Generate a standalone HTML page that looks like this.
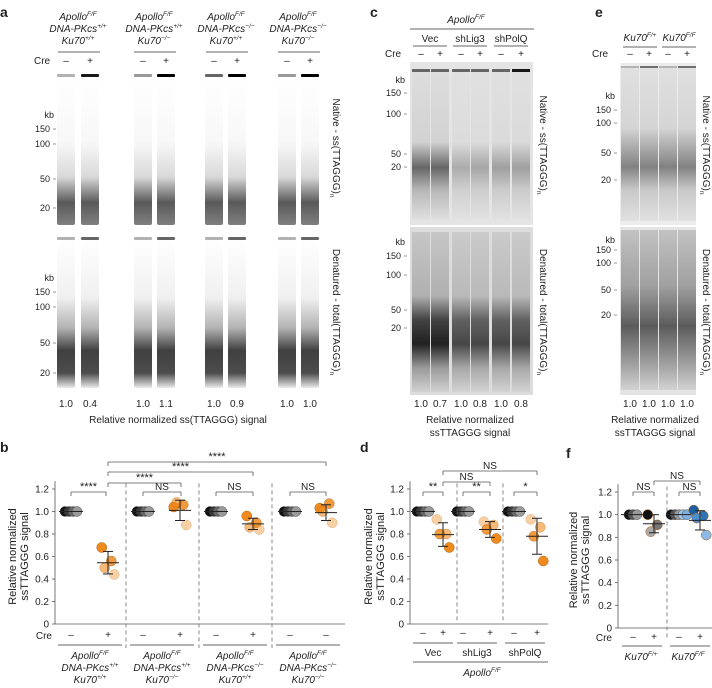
<!DOCTYPE html>
<html><head><meta charset="utf-8">
<style>
body{margin:0;background:#fff;}
svg{display:block;font-family:"Liberation Sans",sans-serif;}
text{fill:#222;}
.it{font-style:italic;}
</style></head>
<body>
<svg id="fig" width="712" height="688" viewBox="0 0 712 688" xmlns="http://www.w3.org/2000/svg">
<defs>
<linearGradient id="gaN" x1="0" y1="0" x2="0" y2="1">
<stop offset="0" stop-color="#000" stop-opacity="0.0"/>
<stop offset="0.45" stop-color="#000" stop-opacity="0.03"/>
<stop offset="0.68" stop-color="#000" stop-opacity="0.15"/>
<stop offset="0.85" stop-color="#000" stop-opacity="0.65"/>
<stop offset="1" stop-color="#000" stop-opacity="0.5"/>
</linearGradient>
<linearGradient id="gaD" x1="0" y1="0" x2="0" y2="1">
<stop offset="0" stop-color="#000" stop-opacity="0.0"/>
<stop offset="0.4" stop-color="#000" stop-opacity="0.06"/>
<stop offset="0.6" stop-color="#000" stop-opacity="0.3"/>
<stop offset="0.75" stop-color="#000" stop-opacity="0.75"/>
<stop offset="0.9" stop-color="#000" stop-opacity="0.7"/>
<stop offset="1" stop-color="#000" stop-opacity="0.08"/>
</linearGradient>
<linearGradient id="gcN" x1="0" y1="0" x2="0" y2="1">
<stop offset="0" stop-color="#000" stop-opacity="0.03"/>
<stop offset="0.48" stop-color="#000" stop-opacity="0.08"/>
<stop offset="0.65" stop-color="#000" stop-opacity="0.55"/>
<stop offset="0.8" stop-color="#000" stop-opacity="0.2"/>
<stop offset="1" stop-color="#000" stop-opacity="0.02"/>
</linearGradient>
<linearGradient id="gcD" x1="0" y1="0" x2="0" y2="1">
<stop offset="0" stop-color="#000" stop-opacity="0.1"/>
<stop offset="0.4" stop-color="#000" stop-opacity="0.2"/>
<stop offset="0.55" stop-color="#000" stop-opacity="0.7"/>
<stop offset="0.7" stop-color="#000" stop-opacity="0.85"/>
<stop offset="0.85" stop-color="#000" stop-opacity="0.3"/>
<stop offset="1" stop-color="#000" stop-opacity="0.05"/>
</linearGradient>
<linearGradient id="geN" x1="0" y1="0" x2="0" y2="1">
<stop offset="0" stop-color="#000" stop-opacity="0.05"/>
<stop offset="0.4" stop-color="#000" stop-opacity="0.1"/>
<stop offset="0.65" stop-color="#000" stop-opacity="0.45"/>
<stop offset="0.8" stop-color="#000" stop-opacity="0.15"/>
<stop offset="1" stop-color="#000" stop-opacity="0.05"/>
</linearGradient>
<linearGradient id="geD" x1="0" y1="0" x2="0" y2="1">
<stop offset="0" stop-color="#000" stop-opacity="0.15"/>
<stop offset="0.35" stop-color="#000" stop-opacity="0.3"/>
<stop offset="0.6" stop-color="#000" stop-opacity="0.6"/>
<stop offset="0.8" stop-color="#000" stop-opacity="0.35"/>
<stop offset="1" stop-color="#000" stop-opacity="0.08"/>
</linearGradient>
</defs>
<g id="gels"></g>
<g id="charts"></g>
</svg>
<script>
// ---------- chart data ----------
const yTicks = [0, 0.2, 0.4, 0.6, 0.8, 1.0, 1.2];
const yTickLabels = ["0","0.2","0.4","0.6","0.8","1.0","1.2"];
// panel b
const bGroups = ["g1","g2","g3","g4"];
const bCre = ["–","+","–","+","–","+","–","–"];
const bMinus = [[1,1,1,1],[1,1,1,1],[1,1,1,1],[1,1,1,1]];
const bPlus = [[0.68,0.56,0.50,0.44],[1.04,1.06,1.08,0.88],[0.96,0.90,0.86,0.84],[1.03,1.07,1.00,0.90]];
const bMean = [0.545,1.01,0.89,0.99];
const bSd = [0.10,0.09,0.05,0.07];
// panel d
const dGroups = ["Vec","shLig3","shPolQ"];
const dMinus = [[1,1,1,1],[1,1,1,1],[1,1,1,1]];
const dPlus = [[0.93,0.80,0.80,0.68],[0.91,0.88,0.84,0.76],[0.93,0.86,0.78,0.56]];
const dMean = [0.795,0.84,0.78];
const dSd = [0.105,0.07,0.16];
// panel f
const fGroups = ["Ku70F/+","Ku70F/F"];
const fMinus = [[1,1,1],[1,1,1,1,1]];
const fPlus = [[1.0,0.91,0.85],[1.04,0.99,0.97,0.82]];
const fMean = [0.92,0.95];
const fSd = [0.08,0.085];
// gel quantification labels
const aQuant = ["1.0","0.4","1.0","1.1","1.0","0.9","1.0","1.0"];
const cQuant = ["1.0","0.7","1.0","0.8","1.0","0.8"];
const eQuant = ["1.0","1.0","1.0","1.0"];

const NS = "http://www.w3.org/2000/svg";
function mk(parent, tag, attrs, txt){
  const e = document.createElementNS(NS, tag);
  for (const k in attrs) e.setAttribute(k, attrs[k]);
  if (txt !== undefined) e.textContent = txt;
  parent.appendChild(e);
  return e;
}
const gels = document.getElementById('gels');
const charts = document.getElementById('charts');

function label(x,y,t,size,anchor,cls,name){
  const e = mk(charts,'text',{x:x,y:y,'font-size':size,'text-anchor':anchor||'middle'},t);
  if(cls) e.setAttribute('class',cls);
  
  
  return e;
}
function genoLabel(x,y,parts,size,name){
  parts.forEach((p,i)=>{
    const t = mk(charts,'text',{x:x,y:y+i*12,'font-size':size,'text-anchor':'middle','class':'it'});
    
    
    mk(t,'tspan',{},p[0]);
    mk(t,'tspan',{'font-size':size*0.65,dy:-4},p[1]);
  });
}
function rotLabel(x,y,lines,size,name){
  const g = mk(charts,'g',{transform:`translate(${x},${y}) rotate(90)`});
  
  
  const t = mk(g,'text',{x:0,y:0,'font-size':size,'text-anchor':'middle'});
  mk(t,'tspan',{},lines[0]);
  mk(t,'tspan',{'font-size':size*0.65,dy:3},'n');
}
function line(x1,y1,x2,y2,w,col,dash){
  const a={x1:x1,y1:y1,x2:x2,y2:y2,stroke:col||'#333','stroke-width':w||1};
  if(dash) a['stroke-dasharray']=dash;
  const e = mk(charts,'line',a);
  
  
  return e;
}

// ---------- GELS ----------
function gel(x,y,w,h,bg,name){
  const r = mk(gels,'rect',{x:x,y:y,width:w,height:h,fill:bg});
  
  
}
function lane(cx,y,h,w,grad,well,name){
  const r = mk(gels,'rect',{x:cx-w/2,y:y,width:w,height:h,fill:`url(#${grad})`,rx:2});
  
  
  const b = mk(gels,'rect',{x:cx-w/2,y:y-1,width:w,height:3,fill:'#000','fill-opacity':well,rx:1});
  
  
}
const aLanes=[66,90,143,166,214,237,287,310];
const aWell=[0.3,0.9,0.4,1,0.6,1,0.4,1];
aLanes.forEach((x,i)=>{
  lane(x,75,150,18,'gaN',aWell[i],'native-lane-a');
  lane(x,238,150,18,'gaD',i%2? 0.6:0.3,'denatured-lane-a');
});
gel(410,62,123,163,'#e4e4e4','native-gel-c');
gel(410,227,123,168,'#dcdcdc','denatured-gel-c');
const cLanes=[421,440,461,480,501,521];
const cNat=[1,1,0.45,0.5,0.55,0.55];
cLanes.forEach((x,i)=>{
  const r=mk(gels,'rect',{x:x-9,y:70,width:18,height:150,fill:'url(#gcN)','opacity':cNat[i]});
   
  const b=mk(gels,'rect',{x:x-9,y:69,width:18,height:3,fill:'#000','fill-opacity':i==5?0.9:0.55});
   
  const d=mk(gels,'rect',{x:x-9,y:232,width:18,height:160,fill:'url(#gcD)','opacity':i<2?1:0.8});
   
});
gel(620,63,76,162,'#ececec','native-gel-e');
gel(620,227,76,168,'#e4e4e4','denatured-gel-e');
const eLanes=[630,649,668,687];
eLanes.forEach((x,i)=>{
  const r=mk(gels,'rect',{x:x-9,y:66,width:18,height:155,fill:'url(#geN)'});
   
  const b=mk(gels,'rect',{x:x-9,y:66,width:18,height:2,fill:'#000','fill-opacity':i%2?0.5:0.2});
   
  const d=mk(gels,'rect',{x:x-9,y:230,width:18,height:160,fill:'url(#geD)'});
   
});

// ---------- gel annotations ----------
label(0,17,'a',14,'start',null,'panel-label-a').setAttribute('font-weight','bold');
const aGeno=[[["Apollo","F/F"],["DNA-PKcs","+/+"],["Ku70","+/+"]],[["Apollo","F/F"],["DNA-PKcs","+/+"],["Ku70","−/−"]],[["Apollo","F/F"],["DNA-PKcs","−/−"],["Ku70","+/+"]],[["Apollo","F/F"],["DNA-PKcs","−/−"],["Ku70","−/−"]]];
[78,154,226,298].forEach((x,i)=>{genoLabel(x,20,aGeno[i],10,'genotype-header-a'); line(x-20,52,x+22,52,0.8);});
label(34,64,'Cre',10,'start',null,'cre-label-a');
aLanes.forEach((x,i)=>label(x,64,i%2?'+':'–',10,'middle',null,'cre-sign'));
function kb(x,ys,vals,name){
  ys.forEach((y,i)=>{
    if(vals[i]==='kb'){label(x,y+3,'kb',9,'end',null,name);}
    else{label(x-4,y+3,vals[i],9,'end',null,name); line(x-1,y,x+2,y,0.7,'#666');}
  });
}
kb(54,[115,129,144,179,208],['kb','150','100','50','20'],'kb-marker-a');
kb(54,[278,292,307,343,373],['kb','150','100','50','20'],'kb-marker-a');
rotLabel(333,148,['Native - ss(TTAGGG)'],10,'native-side-label');
rotLabel(333,312,['Denatured - total(TTAGGG)'],10,'denatured-side-label');
aLanes.forEach((x,i)=>label(x,407,aQuant[i],10,'middle',null,'quant-value'));
label(178,423,'Relative normalized ss(TTAGGG) signal',10,'middle',null,'quant-title-a');

label(370,17,'c',14,'start',null,'panel-label-c').setAttribute('font-weight','bold');
genoLabel(466,23,[["Apollo","F/F"]],10,'genotype-header-c');
line(410,29,534,29,0.8);
['Vec','shLig3','shPolQ'].forEach((t,i)=>{const x=[430,470,511][i];label(x,42,t,10,'middle',null,'shRNA-label');line(x-17,46,x+17,46,0.8);});
label(385,57,'Cre',10,'start',null,'cre-label-c');
cLanes.forEach((x,i)=>label(x,57,i%2?'+':'–',10,'middle',null,'cre-sign'));
kb(405,[80,93,114,154,167],['kb','150','100','50','20'],'kb-marker-c');
kb(405,[242,256,275,310,328],['kb','150','100','50','20'],'kb-marker-c');
rotLabel(540,145,['Native - ss(TTAGGG)'],10,'native-side-label-c');
rotLabel(540,312,['Denatured - total(TTAGGG)'],10,'denatured-side-label-c');
cLanes.forEach((x,i)=>label(x,407,cQuant[i],10,'middle',null,'quant-value'));
label(470,423,'Relative normalized',10,'middle',null,'quant-title-c');
label(470,436,'ssTTAGGG signal',10,'middle',null,'quant-title-c');

label(595,17,'e',14,'start',null,'panel-label-e').setAttribute('font-weight','bold');
genoLabel(640,41,[["Ku70","F/+"]],10,'genotype-header-e');
genoLabel(679,41,[["Ku70","F/F"]],10,'genotype-header-e');
line(623,47,657,47,0.8); line(662,47,696,47,0.8);
label(592,57,'Cre',10,'start',null,'cre-label-e');
eLanes.forEach((x,i)=>label(x,57,i%2?'+':'–',10,'middle',null,'cre-sign'));
kb(615,[96,110,123,153,180],['kb','150','100','50','20'],'kb-marker-e');
kb(615,[240,250,263,290,315],['kb','150','100','50','20'],'kb-marker-e');
rotLabel(703,145,['Native - ss(TTAGGG)'],10,'native-side-label-e');
rotLabel(703,312,['Denatured - total(TTAGGG)'],10,'denatured-side-label-e');
eLanes.forEach((x,i)=>label(x,407,eQuant[i],10,'middle',null,'quant-value'));
label(655,423,'Relative normalized',10,'middle',null,'quant-title-e');
label(655,436,'ssTTAGGG signal',10,'middle',null,'quant-title-e');

// ---------- dot plots ----------
const greys=['#111','#3a3a3a','#666','#999','#aaa'];
function scatterPanel(cfg){
  const y = v => cfg.y0 - (cfg.y0-cfg.y12)*v/1.2;
  line(cfg.ax, y(1.27), cfg.ax, y(0), 0.8, '#555');
  line(cfg.ax, y(0), cfg.axEnd, y(0), 0.8, '#555');
  yTicks.forEach((t,i)=>{line(cfg.ax-3,y(t),cfg.ax,y(t),0.8,'#555');label(cfg.ax-6,y(t)+3.5,yTickLabels[i],10,'end',null,'y-tick-label');});
  cfg.dashes.forEach(x=>line(x,y(1.25),x,y(0)+cfg.dashExt,1,'#888','4,3'));
  const tl = mk(charts,'text',{transform:`translate(${cfg.tx},${(y(0)+y(1.2))/2}) rotate(-90)`,'font-size':11,'text-anchor':'middle'});
  
  
  mk(tl,'tspan',{x:0,y:0},'Relative normalized');
  mk(tl,'tspan',{x:0,y:12},'ssTTAGGG signal');
  cfg.minus.forEach((vals,g)=>{
    const cx = cfg.xm[g];
    vals.forEach((v,j)=>{
      const off=(j-(vals.length-1)/2)*4;
      const c=mk(charts,'circle',{cx:cx+off,cy:y(v),r:cfg.r,fill:cfg.minusCol?cfg.minusCol[j]:greys[j],stroke:'#333','stroke-width':0.4});
      
      
    });
    line(cx-12,y(1),cx+12,y(1),1,'#222');
  });
  cfg.plus.forEach((vals,g)=>{
    const cx = cfg.xp[g];
    vals.forEach((v,j)=>{
      const off=(j%2?1:-1)*4 + (j-1.5)*1.5;
      const col = cfg.plusCol[g] ? cfg.plusCol[g][j] : cfg.col;
      const c=mk(charts,'circle',{cx:cx+off,cy:y(v),r:cfg.r,fill:col,'fill-opacity':cfg.plusOp[j],stroke:'#a85a10','stroke-width':0.5,'stroke-opacity':cfg.plusOp[j]});
      
      
    });
    const m=cfg.mean[g], s=cfg.sd[g];
    line(cx-11,y(m),cx+11,y(m),1,'#222');
    line(cx,y(m-s),cx,y(m+s),1,'#222');
    line(cx-5,y(m-s),cx+5,y(m-s),1,'#222');
    line(cx-5,y(m+s),cx+5,y(m+s),1,'#222');
  });
  cfg.brackets.forEach(b=>{
    line(b[0],b[2],b[1],b[2],0.8,'#555');
    line(b[0],b[2],b[0],b[2]+4,0.8,'#555');
    line(b[1],b[2],b[1],b[2]+4,0.8,'#555');
    label((b[0]+b[1])/2,b[2]-2,b[3],b[3]==='NS'?10:11,'middle',null,'significance-label');
  });
  cfg.creX.forEach((x,i)=>label(x,y(0)+cfg.creDy,cfg.cre[i],10,'middle',null,'cre-sign'));
  if(cfg.creLabelX!==null) label(cfg.creLabelX,y(0)+cfg.creDy+1,'Cre',10,'end',null,'cre-label');
}
// b
scatterPanel({ax:55,axEnd:345,y0:624,y12:489,r:5,tx:16,dashExt:24,creDy:14,creLabelX:52,
  dashes:[126,199,272],xm:[71,143,216,290],xp:[108,180,253,326],
  minus:bMinus,plus:bPlus,mean:bMean,sd:bSd,col:'#f08a1c',plusCol:[null,null,null,null],plusOp:[1,0.85,0.6,0.4],
  brackets:[[71,106,492,'****'],[143,181,492,'NS'],[216,253,492,'NS'],[290,326,492,'NS'],[108,181,483,'****'],[108,253,472,'****'],[108,326,462,'****']],
  creX:[71,108,143,180,216,253,290,326],cre:bCre});
label(0,452,'b',14,'start',null,'panel-label-b').setAttribute('font-weight','bold');
const bGeno=[[["Apollo","F/F"],["DNA-PKcs","+/+"],["Ku70","+/+"]],[["Apollo","F/F"],["DNA-PKcs","+/+"],["Ku70","−/−"]],[["Apollo","F/F"],["DNA-PKcs","−/−"],["Ku70","+/+"]],[["Apollo","F/F"],["DNA-PKcs","−/−"],["Ku70","−/−"]]];
[90,162,235,308].forEach((x,i)=>{line(x-32,645,x+32,645,0.8);genoLabel(x,659,bGeno[i],10,'genotype-label-b');});

// d
scatterPanel({ax:410,axEnd:548,y0:624,y12:489,r:5,tx:372,dashExt:0,creDy:12,creLabelX:null,
  dashes:[457,503],xm:[423,463,514],xp:[443,490,537],
  minus:dMinus,plus:dPlus,mean:dMean,sd:dSd,col:'#f08a1c',plusCol:[null,null,null],plusOp:[0.4,0.6,0.85,1],
  brackets:[[423,443,492,'**'],[463,490,492,'**'],[514,537,492,'*'],[443,490,482,'NS'],[443,537,471,'NS']],
  creX:[423,443,463,490,514,537],cre:["–","+","–","+","–","+"]});
label(360,452,'d',14,'start',null,'panel-label-d').setAttribute('font-weight','bold');
dGroups.forEach((t,i)=>{const x=[433,477,525][i];line(x-20,643,x+20,643,0.8);label(x,656,t,10,'middle',null,'group-label-d');});
line(413,662,548,662,0.8);
genoLabel(482,676,[["Apollo","F/F"]],10,'genotype-label-d');

// f
scatterPanel({ax:618,axEnd:712,y0:628,y12:492,r:5,tx:577,dashExt:12,creDy:12,creLabelX:612,
  dashes:[667],xm:[633,679],xp:[654,700],
  minus:fMinus,plus:fPlus,mean:fMean,sd:fSd,col:'#3b82c4',
  minusCol:['#111','#555','#999','#9ec3e6','#7fb0df'],
  plusCol:[['#111','#777','#aaa','#aaa'],['#1d5fa0','#2f73b5','#4a8fd0','#8db9e6']],plusOp:[1,1,1,1],
  brackets:[[633,654,492,'NS'],[679,700,492,'NS'],[654,700,481,'NS']],
  creX:[633,654,679,700],cre:["–","+","–","+"]});
label(566,458,'f',14,'start',null,'panel-label-f').setAttribute('font-weight','bold');
line(622,646,662,646,0.8); line(670,646,710,646,0.8);
genoLabel(641,660,[["Ku70","F/+"]],10,'genotype-label-f');
genoLabel(688,660,[["Ku70","F/F"]],10,'genotype-label-f');
</script>
</body></html>
